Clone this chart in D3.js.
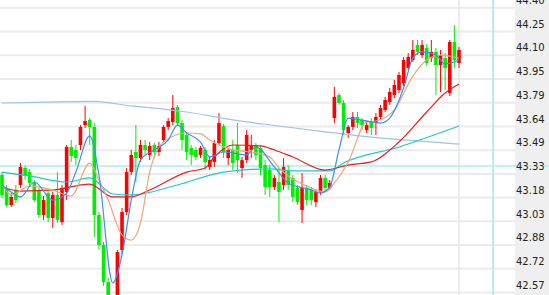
<!DOCTYPE html>
<html>
<head>
<meta charset="utf-8">
<script src="https://cdn.jsdelivr.net/npm/d3@7"></script>
<style>
  html, body { margin: 0; padding: 0; background: #fff; }
  svg { display: block; }
</style>
</head>
<body>
<div id="chart"></div>
<script>
// candle data, one entry per bar
var opens = [43.322,43.239,43.129,43.226,43.258,43.367,43.341,43.271,43.226,43.065,
    43.206,43.046,43.194,43.020,43.213,43.502,43.483,43.515,43.643,43.676,
    43.631,43.065,42.872,42.634,42.519,42.454,42.840,43.084,43.341,43.470,
    43.431,43.515,43.451,43.515,43.470,43.547,43.631,43.663,43.759,43.656,
    43.579,43.496,43.483,43.451,43.483,43.374,43.406,43.528,43.637,43.431,
    43.483,43.515,43.367,43.418,43.483,43.515,43.496,43.386,43.354,43.245,
    43.277,43.258,43.354,43.303,43.239,43.097,43.239,43.226,43.148,43.213,
    43.303,43.239,43.688,43.836,43.785,43.592,43.631,43.695,43.676,43.611,
    43.663,43.656,43.695,43.740,43.791,43.836,43.868,43.913,44.010,44.061,
    44.158,44.093,44.138,44.074,44.113,44.029,44.074,43.849,44.177,44.042];
var closes = [43.194,43.129,43.181,43.161,43.374,43.316,43.271,43.161,43.065,43.161,
    43.046,43.194,43.033,43.239,43.502,43.444,43.431,43.631,43.669,43.631,
    43.065,42.872,42.634,42.487,42.454,42.827,43.084,43.341,43.451,43.431,
    43.515,43.483,43.509,43.470,43.509,43.631,43.669,43.753,43.656,43.547,
    43.470,43.451,43.438,43.496,43.406,43.418,43.528,43.656,43.470,43.483,
    43.399,43.418,43.418,43.579,43.515,43.451,43.367,43.245,43.245,43.303,
    43.213,43.374,43.258,43.181,43.148,43.239,43.161,43.161,43.213,43.303,
    43.239,43.271,43.824,43.785,43.611,43.631,43.695,43.656,43.643,43.643,
    43.624,43.695,43.753,43.804,43.856,43.901,43.965,44.061,44.081,44.126,
    44.113,44.158,44.042,44.113,44.029,44.093,44.010,44.177,44.061,44.126];
var highs = [43.341,43.258,43.206,43.258,43.399,43.380,43.361,43.290,43.239,43.187,
    43.226,43.213,43.341,43.258,43.515,43.547,43.515,43.643,43.766,43.688,
    43.656,43.084,42.891,42.660,42.544,42.840,43.110,43.367,43.483,43.643,
    43.547,43.547,43.534,43.528,43.534,43.643,43.688,43.836,43.772,43.676,
    43.598,43.515,43.502,43.509,43.502,43.438,43.547,43.721,43.650,43.496,
    43.547,43.656,43.438,43.611,43.579,43.528,43.515,43.418,43.386,43.322,
    43.367,43.431,43.386,43.322,43.258,43.335,43.258,43.245,43.226,43.322,
    43.322,43.290,43.888,43.849,43.804,43.643,43.727,43.727,43.688,43.663,
    43.688,43.721,43.772,43.824,43.881,43.933,43.984,44.081,44.106,44.190,
    44.190,44.190,44.164,44.190,44.138,44.126,44.106,44.190,44.286,44.145];
var lows = [43.174,43.116,43.116,43.142,43.239,43.290,43.245,43.148,43.046,43.033,
    43.020,42.981,43.014,43.001,43.161,43.406,43.386,43.483,43.624,43.515,
    42.924,42.840,42.609,42.454,42.416,42.429,42.814,43.065,43.322,43.277,
    43.406,43.451,43.418,43.431,43.444,43.534,43.611,43.643,43.637,43.483,
    43.418,43.386,43.418,43.431,43.354,43.354,43.374,43.515,43.431,43.386,
    43.354,43.335,43.303,43.399,43.431,43.418,43.322,43.194,43.181,43.226,
    43.020,43.226,43.226,43.148,43.129,43.014,43.129,43.129,43.116,43.194,
    43.213,43.226,43.656,43.772,43.579,43.560,43.611,43.624,43.611,43.592,
    43.579,43.579,43.676,43.727,43.772,43.817,43.849,43.894,43.997,44.048,
    44.093,44.074,44.023,44.048,43.836,43.856,43.868,43.830,44.010,44.010];

// moving average lines, [bar index, value]
var ma5 = [[0,43.258],[2,43.213],[4,43.181],[7,43.277],[11,43.161],[14,43.206],[16,43.341],
    [19,43.573],[21,43.322],[24,42.628],[26,42.808],[28,43.161],[30,43.418],[33,43.483],
    [36,43.547],[38,43.643],[40,43.592],[43,43.534],[45,43.438],[48,43.470],[53,43.451],
    [55,43.502],[59,43.374],[62,43.271],[67,43.226],[69,43.206],[71,43.245],[73,43.483],
    [75,43.688],[80,43.663],[82,43.656],[84,43.688],[87,43.881],[89,44.074],[91,44.113],
    [94,44.093],[96,44.036],[99,44.061]];
var ma10 = [[0,43.258],[2,43.194],[6,43.251],[11,43.226],[15,43.187],[19,43.399],[21,43.290],
    [23,43.161],[26,42.936],[28,42.904],[30,43.014],[32,43.341],[35,43.534],[40,43.592],
    [43,43.586],[45,43.547],[50,43.483],[54,43.470],[58,43.438],[60,43.367],[66,43.251],
    [70,43.213],[72,43.271],[75,43.406],[79,43.663],[81,43.669],[85,43.740],[89,43.958],
    [92,44.061],[95,44.093],[99,44.074]];
var ma20 = [[0,43.245],[4,43.219],[11,43.226],[19,43.264],[24,43.181],[28,43.181],[32,43.226],
    [40,43.341],[44,43.367],[46,43.438],[50,43.515],[56,43.509],[59,43.483],[63,43.438],
    [70,43.354],[75,43.386],[80,43.406],[86,43.534],[92,43.727],[96,43.849],[99,43.907]];
var ma60 = [[0,43.341],[6,43.316],[14,43.277],[19,43.303],[24,43.200],[28,43.194],[38,43.258],
    [48,43.341],[58,43.361],[63,43.348],[71,43.348],[74,43.399],[86,43.502],[99,43.637]];
var ma120 = [[0,43.785],[10,43.791],[20,43.795],[28,43.766],[35,43.746],[40,43.727],[50,43.676],
    [60,43.637],[70,43.599],[80,43.566],[90,43.541],[99,43.521]];

// price axis
var yTicks = d3.range(13).map(function (i) { return 44.40 - i * 0.1525; });
var yLabels = ["44.40","44.25","44.10","43.95","43.79","43.64","43.49",
    "43.33","43.18","43.03","42.88","42.72","42.57"];
var refPrice = 43.38;    // horizontal marker line
var crossIndex = 106.4;  // vertical marker line
var lastIndex = 99;      // vertical grid line

var width = 549, height = 295, plotRight = 515;

var svg = d3.select("#chart").append("svg")
    .attr("width", width)
    .attr("height", height);

var x = d3.scaleLinear().domain([0, 99]).range([2, 459]);
var y = d3.scaleLinear().domain([42.57, 44.40]).range([292, 7.3]);

svg.append("defs").append("clipPath")
    .attr("id", "plot-clip")
    .append("rect")
        .attr("x", 0).attr("y", 0)
        .attr("width", plotRight).attr("height", height);

// axis panel background
svg.append("rect")
    .attr("x", plotRight).attr("y", 0)
    .attr("width", width - plotRight).attr("height", height)
    .attr("fill", "#efefef");

// horizontal grid
var grid = svg.append("g")
    .call(d3.axisRight(y).tickValues(yTicks).tickSize(plotRight).tickFormat(""));
grid.select(".domain").remove();
grid.selectAll("line").attr("stroke", "#ebebeb").attr("stroke-width", 2);

// vertical grid at last bar
svg.append("line")
    .attr("x1", x(lastIndex)).attr("x2", x(lastIndex))
    .attr("y1", 0).attr("y2", height)
    .attr("stroke", "#e6e6e6").attr("stroke-width", 1.5);

// marker lines
svg.append("line")
    .attr("x1", x(crossIndex)).attr("x2", x(crossIndex))
    .attr("y1", 0).attr("y2", height)
    .attr("stroke", "#b6e9e9").attr("stroke-width", 2);
svg.append("line")
    .attr("x1", 0).attr("x2", width)
    .attr("y1", y(refPrice)).attr("y2", y(refPrice))
    .attr("stroke", "#c3f0f0").attr("stroke-width", 2);

var plot = svg.append("g").attr("clip-path", "url(#plot-clip)");

// candles
var bars = d3.range(opens.length).map(function (i) {
    return { i: i, o: opens[i], c: closes[i], h: highs[i], l: lows[i] };
});
var upColor = "#ff0000", downColor = "#00ee00";
var bodyW = 3.6;

var candle = plot.selectAll(".candle")
    .data(bars)
    .enter().append("g")
        .attr("class", "candle");

candle.append("line")
    .attr("x1", function (d) { return x(d.i); })
    .attr("x2", function (d) { return x(d.i); })
    .attr("y1", function (d) { return y(d.h); })
    .attr("y2", function (d) { return y(d.l); })
    .attr("stroke", function (d) { return d.c >= d.o ? upColor : downColor; })
    .attr("stroke-width", 1);

candle.append("rect")
    .attr("x", function (d) { return x(d.i) - bodyW / 2; })
    .attr("width", bodyW)
    .attr("y", function (d) { return y(Math.max(d.o, d.c)); })
    .attr("height", function (d) { return Math.max(1, Math.abs(y(d.o) - y(d.c))); })
    .attr("fill", function (d) { return d.c >= d.o ? upColor : downColor; });

// moving averages
var maLine = d3.line()
    .x(function (d) { return x(d[0]); })
    .y(function (d) { return y(d[1]); })
    .curve(d3.curveMonotoneX);

var series = [
    { data: ma120, color: "#9cc5e2" },
    { data: ma60, color: "#22c7d2" },
    { data: ma20, color: "#ee1c1c" },
    { data: ma10, color: "#e8a77c" },
    { data: ma5, color: "#3a90f0" }
];
series.forEach(function (s) {
    plot.append("path")
        .attr("d", maLine(s.data))
        .attr("fill", "none")
        .attr("stroke", s.color)
        .attr("stroke-width", 1.2);
});

// price labels
var axis = svg.append("g")
    .attr("transform", "translate(" + plotRight + ",0)")
    .call(d3.axisRight(y).tickValues(yTicks).tickSize(0)
        .tickFormat(function (d, i) { return yLabels[i]; }));
axis.select(".domain").remove();
axis.selectAll("text")
    .attr("x", 1)
    .attr("dy", -3.8)
    .attr("fill", "#222")
    .style("font-family", "'DejaVu Sans', sans-serif")
    .style("font-size", "10px");
</script>
</body>
</html>
